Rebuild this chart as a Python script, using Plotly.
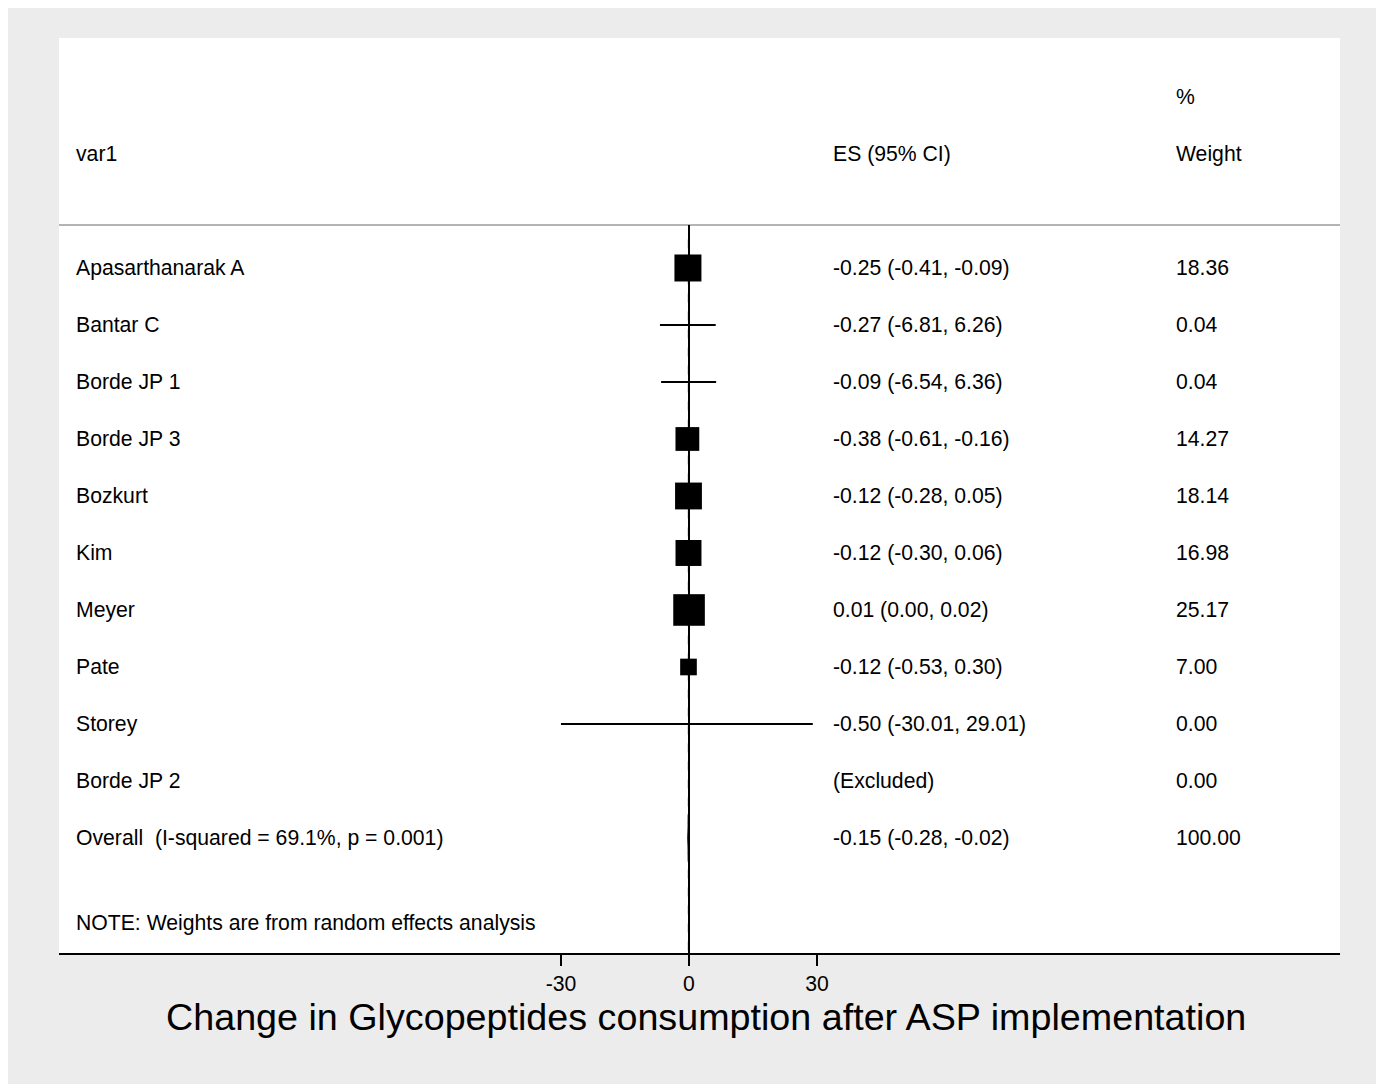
import plotly.graph_objects as go
import math

studies = ["Apasarthanarak A", "Bantar C", "Borde JP 1", "Borde JP 3", "Bozkurt",
           "Kim", "Meyer", "Pate", "Storey", "Borde JP 2"]
es = [-0.25, -0.27, -0.09, -0.38, -0.12, -0.12, 0.01, -0.12, -0.50, None]
lo = [-0.41, -6.81, -6.54, -0.61, -0.28, -0.30, 0.00, -0.53, -30.01, None]
hi = [-0.09, 6.26, 6.36, -0.16, 0.05, 0.06, 0.02, 0.30, 29.01, None]
es_text = ["-0.25 (-0.41, -0.09)", "-0.27 (-6.81, 6.26)", "-0.09 (-6.54, 6.36)",
           "-0.38 (-0.61, -0.16)", "-0.12 (-0.28, 0.05)", "-0.12 (-0.30, 0.06)",
           "0.01 (0.00, 0.02)", "-0.12 (-0.53, 0.30)", "-0.50 (-30.01, 29.01)", "(Excluded)"]
weights = [18.36, 0.04, 0.04, 14.27, 18.14, 16.98, 25.17, 7.00, 0.00, 0.00]
weight_text = ["18.36", "0.04", "0.04", "14.27", "18.14", "16.98", "25.17", "7.00", "0.00", "0.00"]

overall_label = "Overall  (I-squared = 69.1%, p = 0.001)"
overall_es, overall_lo, overall_hi = -0.15, -0.28, -0.02
overall_text = "-0.15 (-0.28, -0.02)"
overall_weight = "100.00"
note = "NOTE: Weights are from random effects analysis"
xlabel = "Change in Glycopeptides consumption after ASP implementation"
tick_vals = [-30, 0, 30]

FONT = "Liberation Sans, Arial, Helvetica, sans-serif"
BODY = 21.2
rows = list(range(1, len(studies) + 1))
overall_row = len(studies) + 1

fig = go.Figure()

# CI lines
cx, cy = [], []
for r, l, h in zip(rows, lo, hi):
    if l is None:
        continue
    cx += [l, h, None]
    cy += [r, r, None]
fig.add_trace(go.Scatter(x=cx, y=cy, mode="lines", line=dict(color="black", width=2),
                         hoverinfo="skip", showlegend=False))

# weight boxes
bx, by, bs = [], [], []
for r, e, w in zip(rows, es, weights):
    if e is None or w <= 0:
        continue
    bx.append(e); by.append(r); bs.append(6.3 * math.sqrt(w))
fig.add_trace(go.Scatter(x=bx, y=by, mode="markers", opacity=1,
                         marker=dict(symbol="square", size=bs, color="black", opacity=1,
                                     line=dict(width=0)),
                         hoverinfo="skip", showlegend=False))

# overall diamond
dh = 0.42
fig.add_trace(go.Scatter(x=[overall_lo, overall_es, overall_hi, overall_es, overall_lo],
                         y=[overall_row, overall_row - dh, overall_row, overall_row + dh, overall_row],
                         mode="lines", fill="toself", fillcolor="black",
                         line=dict(color="black", width=1), hoverinfo="skip", showlegend=False))

Y_TOP, Y_BOT = -3.035, 13.018
GRAY_Y = 0.2456

shapes = [
    dict(type="line", xref="paper", yref="y", x0=0, x1=1, y0=GRAY_Y, y1=GRAY_Y,
         line=dict(color="#b4b4b4", width=2)),
    dict(type="line", xref="x", yref="y", x0=0, x1=0, y0=GRAY_Y, y1=Y_BOT,
         line=dict(color="black", width=2)),
    dict(type="line", xref="x", yref="y", x0=overall_es, x1=overall_es, y0=0.5, y1=Y_BOT,
         line=dict(color="black", width=1, dash="dash")),
]

ann = []
def txt(x, y, s, size=BODY):
    ann.append(dict(x=x, y=y, xref="paper", yref="y", text=s, showarrow=False,
                    xanchor="left", yanchor="middle", font=dict(family=FONT, size=size, color="black")))

X_NAME, X_ES, X_W = 0.0117, 0.6026, 0.8704
txt(X_NAME, -1, "var1")
txt(X_ES, -1, "ES (95% CI)")
txt(X_W, -2, "%")
txt(X_W, -1, "Weight")
for r, n, t, w in zip(rows, studies, es_text, weight_text):
    txt(X_NAME, r, n)
    txt(X_ES, r, t)
    txt(X_W, r, w)
txt(X_NAME, overall_row, overall_label)
txt(X_ES, overall_row, overall_text)
txt(X_W, overall_row, overall_weight)
txt(X_NAME, 12.5, note)

ann.append(dict(x=0.505, y=-0.0699, xref="paper", yref="paper", text=xlabel, showarrow=False,
                xanchor="center", yanchor="middle", font=dict(family=FONT, size=37.7, color="black")))

fig.update_layout(
    width=1376, height=1076,
    margin=dict(l=51, r=44, t=30, b=131),
    paper_bgcolor="#ececec", plot_bgcolor="white",
    shapes=shapes, annotations=ann, showlegend=False,
    xaxis=dict(range=[-147.66, 152.58], tickvals=tick_vals, ticktext=[str(v) for v in tick_vals],
               showgrid=False, zeroline=False, showline=True, linecolor="black", linewidth=2,
               ticks="outside", ticklen=11, tickwidth=2, tickcolor="black",
               tickfont=dict(family=FONT, size=BODY, color="black")),
    yaxis=dict(range=[Y_BOT, Y_TOP], visible=False, showgrid=False, zeroline=False),
)

fig.write_html("out.html")
